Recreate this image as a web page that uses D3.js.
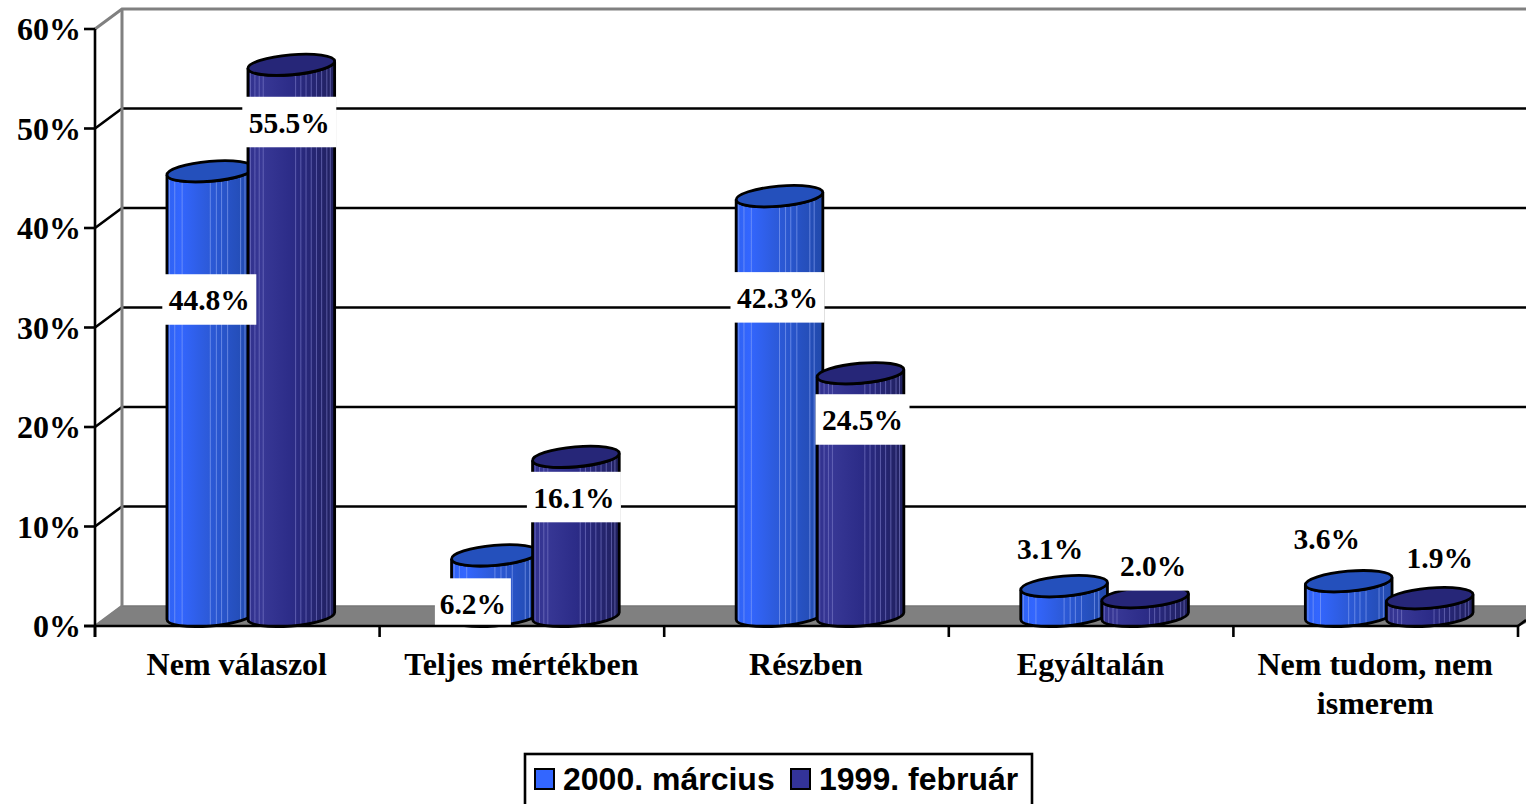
<!DOCTYPE html>
<html><head><meta charset="utf-8">
<script src="https://cdn.jsdelivr.net/npm/d3@7/dist/d3.min.js"></script>
<style>html,body{margin:0;background:#fff;overflow:hidden}svg{display:block}</style></head>
<body><svg id="c" width="1526" height="804"></svg>
<script>
const categories = ["Nem válaszol","Teljes mértékben","Részben","Egyáltalán","Nem tudom, nem|ismerem"];
const seriesNames = ["2000. március","1999. február"];
const march2000 = [44.8,6.2,42.3,3.1,3.6];
const feb1999 = [55.5,16.1,24.5,2.0,1.9];
const yTicks = [0,10,20,30,40,50,60];
const labelShiftMarch = [[-1,130],[-22,50],[-2,103],[-14,-36],[-22,-41]];
const labelShiftFeb = [[-2,59],[-2,42],[2,48],[8,-30],[10,-39]];

const svg = d3.select("#c");
const x = d3.scaleBand().domain(categories).range([95,1518]);
const y = d3.scaleLinear().domain([0,60]).range([626,29]);
const depthX = 27, depthY = -20;
const SERIF = "'Liberation Serif','Times New Roman',serif";
const SANS = "'Liberation Sans',Arial,sans-serif";

svg.append("path").attr("d",`M${x.range()[0]},${y(0)}L${x.range()[0]+depthX},${y(0)+depthY}H1560L${x.range()[1]},${y(0)}Z`)
  .attr("fill","#808080").attr("stroke","#777").attr("stroke-width",1.5);
const grid = svg.append("g");
yTicks.forEach(t=>{
  const c = (t===60||t===0) ? "#808080" : "#000";
  const p = `M${95},${y(t)}L${95+depthX},${y(t)+depthY}` + (t===0?"":"H1526");
  grid.append("path").attr("d",p).attr("fill","none").attr("stroke",c).attr("stroke-width",t===60?3:2.6);
});
svg.append("line").attr("x1",95+depthX).attr("x2",95+depthX).attr("y1",y(60)+depthY).attr("y2",y(0)+depthY).attr("stroke","#808080").attr("stroke-width",3);

const ax = svg.append("g").attr("stroke","#000").attr("stroke-width",2.6);
ax.append("line").attr("x1",95).attr("x2",95).attr("y1",y(60)).attr("y2",637);
yTicks.forEach(t=>ax.append("line").attr("x1",84).attr("x2",95).attr("y1",y(t)).attr("y2",y(t)));
const edges = categories.map(c=>x(c)).concat([x.range()[1]]);
edges.forEach(e=>ax.append("line").attr("x1",e).attr("x2",e).attr("y1",626).attr("y2",637));
ax.append("line").attr("x1",1518).attr("x2",1526).attr("y1",626).attr("y2",620);

svg.append("g").selectAll("text").data(yTicks).join("text")
  .attr("x",81).attr("y",d=>y(d)+11).attr("text-anchor","end")
  .attr("font-family",SERIF).attr("font-weight","bold").attr("font-size",32).text(d=>d+"%");

categories.forEach(c=>{
  const t = svg.append("text").attr("text-anchor","middle").attr("font-family",SERIF).attr("font-weight","bold").attr("font-size",32);
  c.split("|").forEach((l,i)=>t.append("tspan").attr("x",x(c)+x.bandwidth()/2-0.5).attr("y",675+i*38.5).text(l));
});

const defs = svg.append("defs");
function grad(id,stops){
  const g=defs.append("linearGradient").attr("id",id);
  stops.forEach(([o,c])=>g.append("stop").attr("offset",o).attr("stop-color",c));
}
grad("g0",[[0,"#2f62f2"],[0.15,"#3366ff"],[0.45,"#2d5bdc"],[1,"#2149ab"]]);
grad("g1",[[0,"#30308c"],[0.15,"#383896"],[0.5,"#2c2c88"],[1,"#20205e"]]);
const stripesMarch = [0.03,0.09,0.175,0.5,0.57,0.63,0.7,0.85,0.9];
const stripesFeb = [0.03,0.08,0.13,0.176,0.55,0.61,0.67,0.73,0.79,0.85,0.91,0.95];

const a=43.5, b=10, th=-5*Math.PI/180, rise=10, baseY=y(0)-rise;
const ext=Math.sqrt(a*a*Math.cos(th)**2+b*b*Math.sin(th)**2);
const tan=(a*a-b*b)*Math.sin(th)*Math.cos(th)/ext;
const bars = svg.append("g");
const seriesList=[march2000,feb1999];
const stripeSets=[stripesMarch,stripesFeb];
const tops=["#2450bc","#262678"];
const stripeColor=["#8fa8f5","#8080cc"];
const h=v=>y(0)-y(v);
categories.forEach((c,i)=>{
  const center=x(c)+x.bandwidth()/2+13.5;
  [-40.5,40.5].forEach((off,s)=>{
    const cx=center+off, v=seriesList[s][i], ty=baseY-h(v)+1;
    const g=bars.append("g");
    const side=`M${cx-ext},${ty-tan}L${cx-ext},${baseY-tan}A${a},${b} -5 0 0 ${cx+ext},${baseY+tan}L${cx+ext},${ty+tan}A${a},${b} -5 0 1 ${cx-ext},${ty-tan}Z`;
    const cid=`cl${i}${s}`;
    defs.append("clipPath").attr("id",cid).append("path").attr("d",side);
    g.append("path").attr("d",side).attr("fill",`url(#g${s})`);
    const sg=g.append("g").attr("clip-path",`url(#${cid})`);
    stripeSets[s].forEach(p=>sg.append("line").attr("x1",cx-ext+2*ext*p).attr("x2",cx-ext+2*ext*p)
      .attr("y1",ty-20).attr("y2",baseY+20).attr("stroke",stripeColor[s]).attr("stroke-width",1).attr("opacity",0.6));
    g.append("path").attr("d",side).attr("fill","none").attr("stroke","#000").attr("stroke-width",2.8);
    g.append("ellipse").attr("cx",cx).attr("cy",ty).attr("rx",a).attr("ry",b)
      .attr("transform",`rotate(-5 ${cx} ${ty})`).attr("fill",tops[s]).attr("stroke","#000").attr("stroke-width",2.8);
  });
});

const shifts=[labelShiftMarch,labelShiftFeb];
const labels=svg.append("g");
categories.forEach((c,i)=>{
  const center=x(c)+x.bandwidth()/2+13.5;
  [-40.5,40.5].forEach((off,s)=>{
    const v=seriesList[s][i], lx=center+off+shifts[s][i][0], ly=baseY-h(v)+shifts[s][i][1];
    const boxW=v>=10?94:76, top=ly-26, bot=Math.min(ly+24.5,y(0)-1);
    labels.append("rect").attr("x",lx-boxW/2).attr("y",top).attr("width",boxW).attr("height",bot-top).attr("fill","#fff");
    labels.append("text").attr("x",lx).attr("y",ly+10).attr("text-anchor","middle")
      .attr("font-family",SERIF).attr("font-weight","bold").attr("font-size",29.5).text(v.toFixed(1)+"%");
  });
});
svg.append("line").attr("x1",84).attr("x2",x.range()[1]).attr("y1",y(0)).attr("y2",y(0)).attr("stroke","#000").attr("stroke-width",2.6);

const lg=svg.append("g");
lg.append("rect").attr("x",525).attr("y",754).attr("width",507).attr("height",60).attr("fill","#fff").attr("stroke","#000").attr("stroke-width",2.6);
const fills=["#3366ff","#333399"], lx=[[535,563],[791,819]];
seriesNames.forEach((n,i)=>{
  lg.append("rect").attr("x",lx[i][0]).attr("y",769).attr("width",19).attr("height",20).attr("fill",fills[i]).attr("stroke","#000").attr("stroke-width",2);
  lg.append("text").attr("x",lx[i][1]).attr("y",790).attr("font-family",SANS).attr("font-weight","bold").attr("font-size",32).text(n);
});
</script></body></html>
